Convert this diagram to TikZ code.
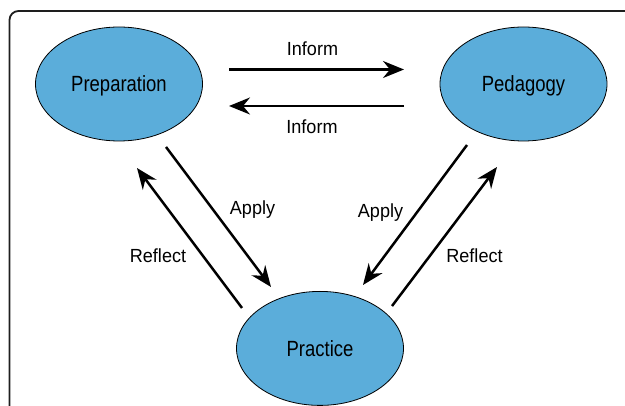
\documentclass[tikz,border=0pt]{standalone}
\usepackage{fontspec}
\setmainfont{Liberation Sans}
\newfontfamily\stagefont[FakeStretch=0.84]{Liberation Sans}
\newfontfamily\tagfont[FakeStretch=0.95]{Liberation Sans}
\usetikzlibrary{shapes.geometric,arrows.meta}

\definecolor{stageblue}{RGB}{91,173,218}
\definecolor{framegray}{RGB}{30,30,30}

\tikzset{
    stage/.style={ellipse, draw=black, line width=0.8pt, fill=stageblue,
        minimum width=167pt, minimum height=114pt, inner sep=0pt, text depth=0pt,
        font=\stagefont\fontsize{22}{24}\selectfont},
    flow/.style={line width=2.5pt, -{Stealth[length=21pt,width=17pt,inset=7pt]}},
    tag/.style={inner sep=0pt, text depth=0pt, font=\tagfont\fontsize{19}{22}\selectfont}
}

\begin{document}
\begin{tikzpicture}[x=1pt,y=-1pt]
        \clip (0,0) rectangle (625,406);
        % outer frame, it runs off the right and bottom edge
        \draw [line width=1.8pt, color=framegray, rounded corners=9pt] (9.5,11) rectangle (680,460);

        \node [stage] (prep) at (119,84) {Preparation};
        \node [stage] (peda) at (523.5,84) {Pedagogy};
        \node [stage] (prac) at (320,348.4) {Practice};

        \draw [flow] ([shift={(110,-14.5)}]prep.center) -- ([shift={(-119.5,-14.5)}]peda.center);
        \draw [flow] ([shift={(-119.5,22)}]peda.center) -- ([shift={(110,22)}]prep.center);
        \draw [flow] ([shift={(47,63)}]prep.center) -- ([shift={(-49,-61.4)}]prac.center);
        \draw [flow] ([shift={(-78,-40.4)}]prac.center) -- ([shift={(18,84)}]prep.center);
        \draw [flow] ([shift={(-56.5,61)}]peda.center) -- ([shift={(43,-63.4)}]prac.center);
        \draw [flow] ([shift={(72,-42.4)}]prac.center) -- ([shift={(-26.5,83)}]peda.center);

        \node [tag] (inform1) at (312.5,49.1) {Inform};
        \node [tag] (inform2) at (312,127.1) {Inform};
        \node [tag] (apply1) at (252.5,208.1) {Apply};
        \node [tag] (reflect1) at (158,255.8) {Reflect};
        \node [tag] (apply2) at (380.5,210.4) {Apply};
        \node [tag] (reflect2) at (474.5,255.8) {Reflect};
    \end{tikzpicture}
\end{document}
